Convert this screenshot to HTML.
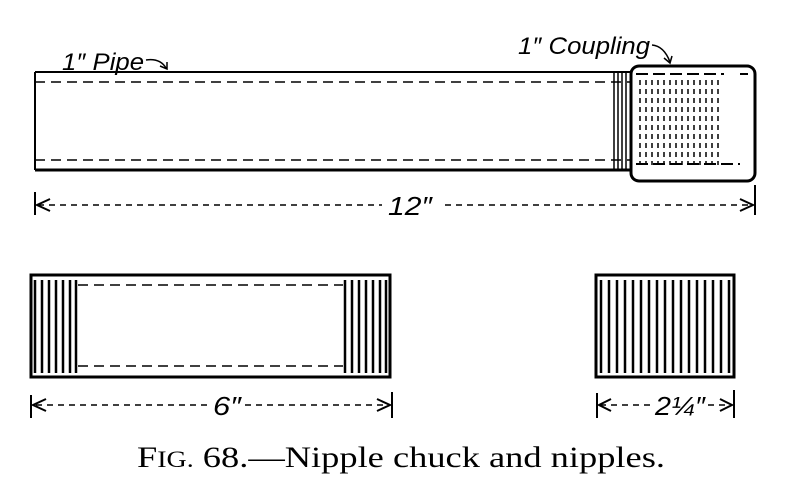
<!DOCTYPE html>
<html><head><style>
body{margin:0;background:#fff;width:800px;height:493px;overflow:hidden}
</style></head><body>
<svg width="800" height="493" viewBox="0 0 800 493" xmlns="http://www.w3.org/2000/svg">
<g stroke="#000" fill="none">
<line x1="35" y1="72" x2="632" y2="72" stroke-width="2"/>
<line x1="35" y1="170" x2="632" y2="170" stroke-width="3"/>
<line x1="35" y1="72" x2="35" y2="170" stroke-width="2"/>
<line x1="35" y1="82" x2="630" y2="82" stroke-width="1.5" stroke-dasharray="10,6"/>
<line x1="35" y1="160" x2="630" y2="160" stroke-width="1.5" stroke-dasharray="10,6"/>
<g stroke-width="1.5">
<line x1="614" y1="72" x2="614" y2="170"/><line x1="618" y1="72" x2="618" y2="170"/>
<line x1="622" y1="72" x2="622" y2="170"/><line x1="626" y1="72" x2="626" y2="170"/>
</g>
<rect x="631" y="66" width="124" height="115" rx="8" stroke-width="3"/>
<g stroke-width="1.5" stroke-dasharray="5,4">
<line x1="640" y1="80" x2="640" y2="165"/><line x1="646" y1="80" x2="646" y2="165"/>
<line x1="652" y1="80" x2="652" y2="165"/><line x1="658" y1="80" x2="658" y2="165"/>
<line x1="664" y1="80" x2="664" y2="165"/><line x1="670" y1="80" x2="670" y2="165"/>
<line x1="676" y1="80" x2="676" y2="165"/><line x1="682" y1="80" x2="682" y2="165"/>
<line x1="688" y1="80" x2="688" y2="165"/><line x1="694" y1="80" x2="694" y2="165"/>
<line x1="700" y1="80" x2="700" y2="165"/><line x1="706" y1="80" x2="706" y2="165"/>
<line x1="712" y1="80" x2="712" y2="165"/><line x1="718" y1="80" x2="718" y2="165"/>
</g>
<path d="M636 74 H724 M636 164 H740" stroke-width="2" stroke-dasharray="12,5"/>
<line x1="740" y1="74" x2="748" y2="74" stroke-width="2"/>
<line x1="35" y1="192" x2="35" y2="215" stroke-width="2"/>
<line x1="755" y1="185" x2="755" y2="215" stroke-width="2"/>
<line x1="38" y1="205" x2="382" y2="205" stroke-width="1.5" stroke-dasharray="6,5"/>
<line x1="445" y1="205" x2="752" y2="205" stroke-width="1.5" stroke-dasharray="6,5"/>
<path d="M50 199 L37 205 L50 211 M740 199 L753 205 L740 211" stroke-width="2"/>
<path d="M146 60 Q160 58 166 68 M160 66 L167 69 L167 62" stroke-width="1.5"/>
<path d="M652 45 Q664 46 670 62 M664 58 L670 63 L672 56" stroke-width="1.5"/>
<rect x="31" y="275" width="359" height="102" stroke-width="3"/>
<line x1="78" y1="285" x2="343" y2="285" stroke-width="1.5" stroke-dasharray="10,6"/>
<line x1="78" y1="366" x2="343" y2="366" stroke-width="1.5" stroke-dasharray="10,6"/>
<g stroke-width="2.5">
<line x1="35" y1="280" x2="35" y2="373"/><line x1="42" y1="280" x2="42" y2="373"/>
<line x1="49" y1="280" x2="49" y2="373"/><line x1="56" y1="280" x2="56" y2="373"/>
<line x1="63" y1="280" x2="63" y2="373"/><line x1="70" y1="280" x2="70" y2="373"/>
<line x1="76" y1="280" x2="76" y2="373"/>
<line x1="345" y1="280" x2="345" y2="373"/><line x1="352" y1="280" x2="352" y2="373"/>
<line x1="359" y1="280" x2="359" y2="373"/><line x1="366" y1="280" x2="366" y2="373"/>
<line x1="373" y1="280" x2="373" y2="373"/><line x1="380" y1="280" x2="380" y2="373"/>
<line x1="386" y1="280" x2="386" y2="373"/>
</g>
<line x1="31" y1="395" x2="31" y2="418" stroke-width="2"/>
<line x1="392" y1="392" x2="392" y2="418" stroke-width="2"/>
<line x1="36" y1="405" x2="208" y2="405" stroke-width="1.5" stroke-dasharray="6,5"/>
<line x1="245" y1="405" x2="388" y2="405" stroke-width="1.5" stroke-dasharray="6,5"/>
<path d="M46 399 L33 405 L46 411 M377 399 L390 405 L377 411" stroke-width="2"/>
<rect x="596" y="275" width="138" height="102" stroke-width="3"/>
<g stroke-width="2.5">
<line x1="601" y1="280" x2="601" y2="373"/><line x1="609" y1="280" x2="609" y2="373"/>
<line x1="617" y1="280" x2="617" y2="373"/><line x1="625" y1="280" x2="625" y2="373"/>
<line x1="633" y1="280" x2="633" y2="373"/><line x1="641" y1="280" x2="641" y2="373"/>
<line x1="649" y1="280" x2="649" y2="373"/><line x1="657" y1="280" x2="657" y2="373"/>
<line x1="665" y1="280" x2="665" y2="373"/><line x1="673" y1="280" x2="673" y2="373"/>
<line x1="681" y1="280" x2="681" y2="373"/><line x1="689" y1="280" x2="689" y2="373"/>
<line x1="697" y1="280" x2="697" y2="373"/><line x1="705" y1="280" x2="705" y2="373"/>
<line x1="713" y1="280" x2="713" y2="373"/><line x1="721" y1="280" x2="721" y2="373"/>
<line x1="729" y1="280" x2="729" y2="373"/>
</g>
<line x1="597" y1="393" x2="597" y2="418" stroke-width="2"/>
<line x1="734" y1="390" x2="734" y2="418" stroke-width="2"/>
<line x1="600" y1="405" x2="650" y2="405" stroke-width="1.5" stroke-dasharray="6,5"/>
<line x1="708" y1="405" x2="730" y2="405" stroke-width="1.5" stroke-dasharray="6,5"/>
<path d="M611 399 L599 405 L611 411 M720 399 L732 405 L720 411" stroke-width="2"/>
</g>
<g font-family="Liberation Sans, sans-serif" font-style="italic" font-size="24" fill="#000">
<text x="62" y="70" textLength="82" lengthAdjust="spacingAndGlyphs">1″ Pipe</text>
<text x="518" y="54" textLength="132" lengthAdjust="spacingAndGlyphs">1″ Coupling</text>
<text x="388" y="215" font-size="26" textLength="44" lengthAdjust="spacingAndGlyphs">12″</text>
<text x="213" y="415" font-size="26" textLength="28" lengthAdjust="spacingAndGlyphs">6″</text>
<text x="655" y="415" font-size="26" textLength="50" lengthAdjust="spacingAndGlyphs">2¼″</text>
</g>
<text x="137" y="467" font-family="Liberation Serif, serif" font-size="30" fill="#000" textLength="528" lengthAdjust="spacingAndGlyphs">F<tspan font-size="23">IG.</tspan> 68.—Nipple chuck and nipples.</text>
</svg>
</body></html>
